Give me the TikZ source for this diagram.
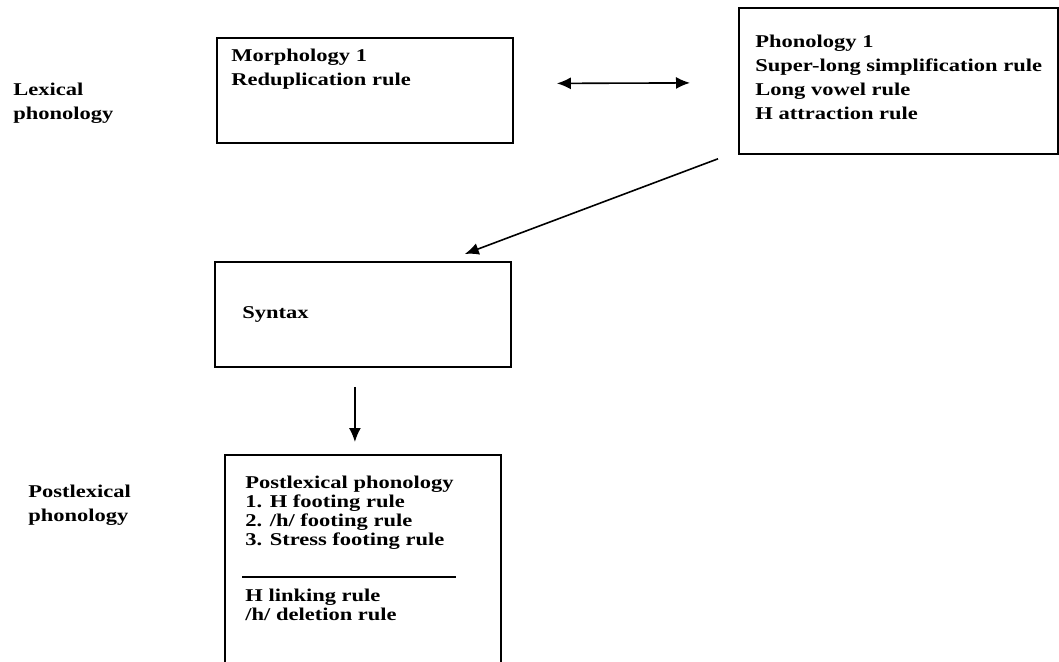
\documentclass[tikz,border=0pt]{standalone}
\usepackage{fontspec}
\setmainfont{Liberation Serif}[FakeStretch=1.25]
\usetikzlibrary{arrows.meta}
\tikzset{
  rule box/.style={draw,rectangle,line width=0.9pt,anchor=north west,inner sep=0pt},
  rule text/.style={anchor=north west,inner sep=0pt,align=left,font=\bfseries\fontsize{9}{12}\selectfont},
  tight text/.style={rule text,font=\bfseries\fontsize{9}{9.5}\selectfont},
  flow/.style={line width=0.8pt}
}

\begin{document}
\begin{tikzpicture}[x=0.5pt,y=-0.5pt,>={Latex[length=7pt,width=6pt]}]
  \useasboundingbox (0,0) rectangle (1059,662);
  \clip (0,0) rectangle (1059,662);
  \node [rule text] (lex) at (13,83) {Lexical\\phonology};
  \node [rule text] (postlex) at (28,485) {Postlexical\\phonology};
  \node [rule box,minimum width=148pt,minimum height=52.5pt] (morph) at (216,37) {};
  \node [rule box,minimum width=159.5pt,minimum height=73pt] (phon) at (738,7) {};
  \node [rule box,minimum width=148pt,minimum height=52.5pt] (syntax) at (214,261) {};
  \node [rule box,minimum width=138pt,minimum height=130pt] (post) at (224,454) {};
  \node [rule text] (morphtext) at ([shift={(15,12)}]morph.north west)
    {Morphology 1\\Reduplication rule};
  \node [rule text] (phontext) at ([shift={(17,28)}]phon.north west)
    {Phonology 1\\Super-long simplification rule\\Long vowel rule\\H attraction rule};
  \node [rule text,anchor=west] (syntaxtext) at ([shift={(28,0)}]syntax.west) {Syntax};
  \node [tight text] (posttext) at ([shift={(21,22)}]post.north west)
    {Postlexical phonology\\1. H footing rule\\2. /h/ footing rule\\3. Stress footing rule};
  \node [tight text] (linktext) at ([shift={(21,135)}]post.north west)
    {H linking rule\\/h/ deletion rule};
  \draw [line width=0.8pt] ([shift={(18,123)}]post.north west) -- ([shift={(232,123)}]post.north west);
  \draw [flow,<->] ([shift={(43,-7)}]morph.east) -- ([shift={(-48,2)}]phon.west);
  \draw [flow,->] ([shift={(-20,4)}]phon.south west) -- ([shift={(-47,-7)}]syntax.north east);
  \draw [flow,->] ([shift={(-8,19)}]syntax.south) -- ([shift={(-8,-12)}]post.north);
\end{tikzpicture}
\end{document}
